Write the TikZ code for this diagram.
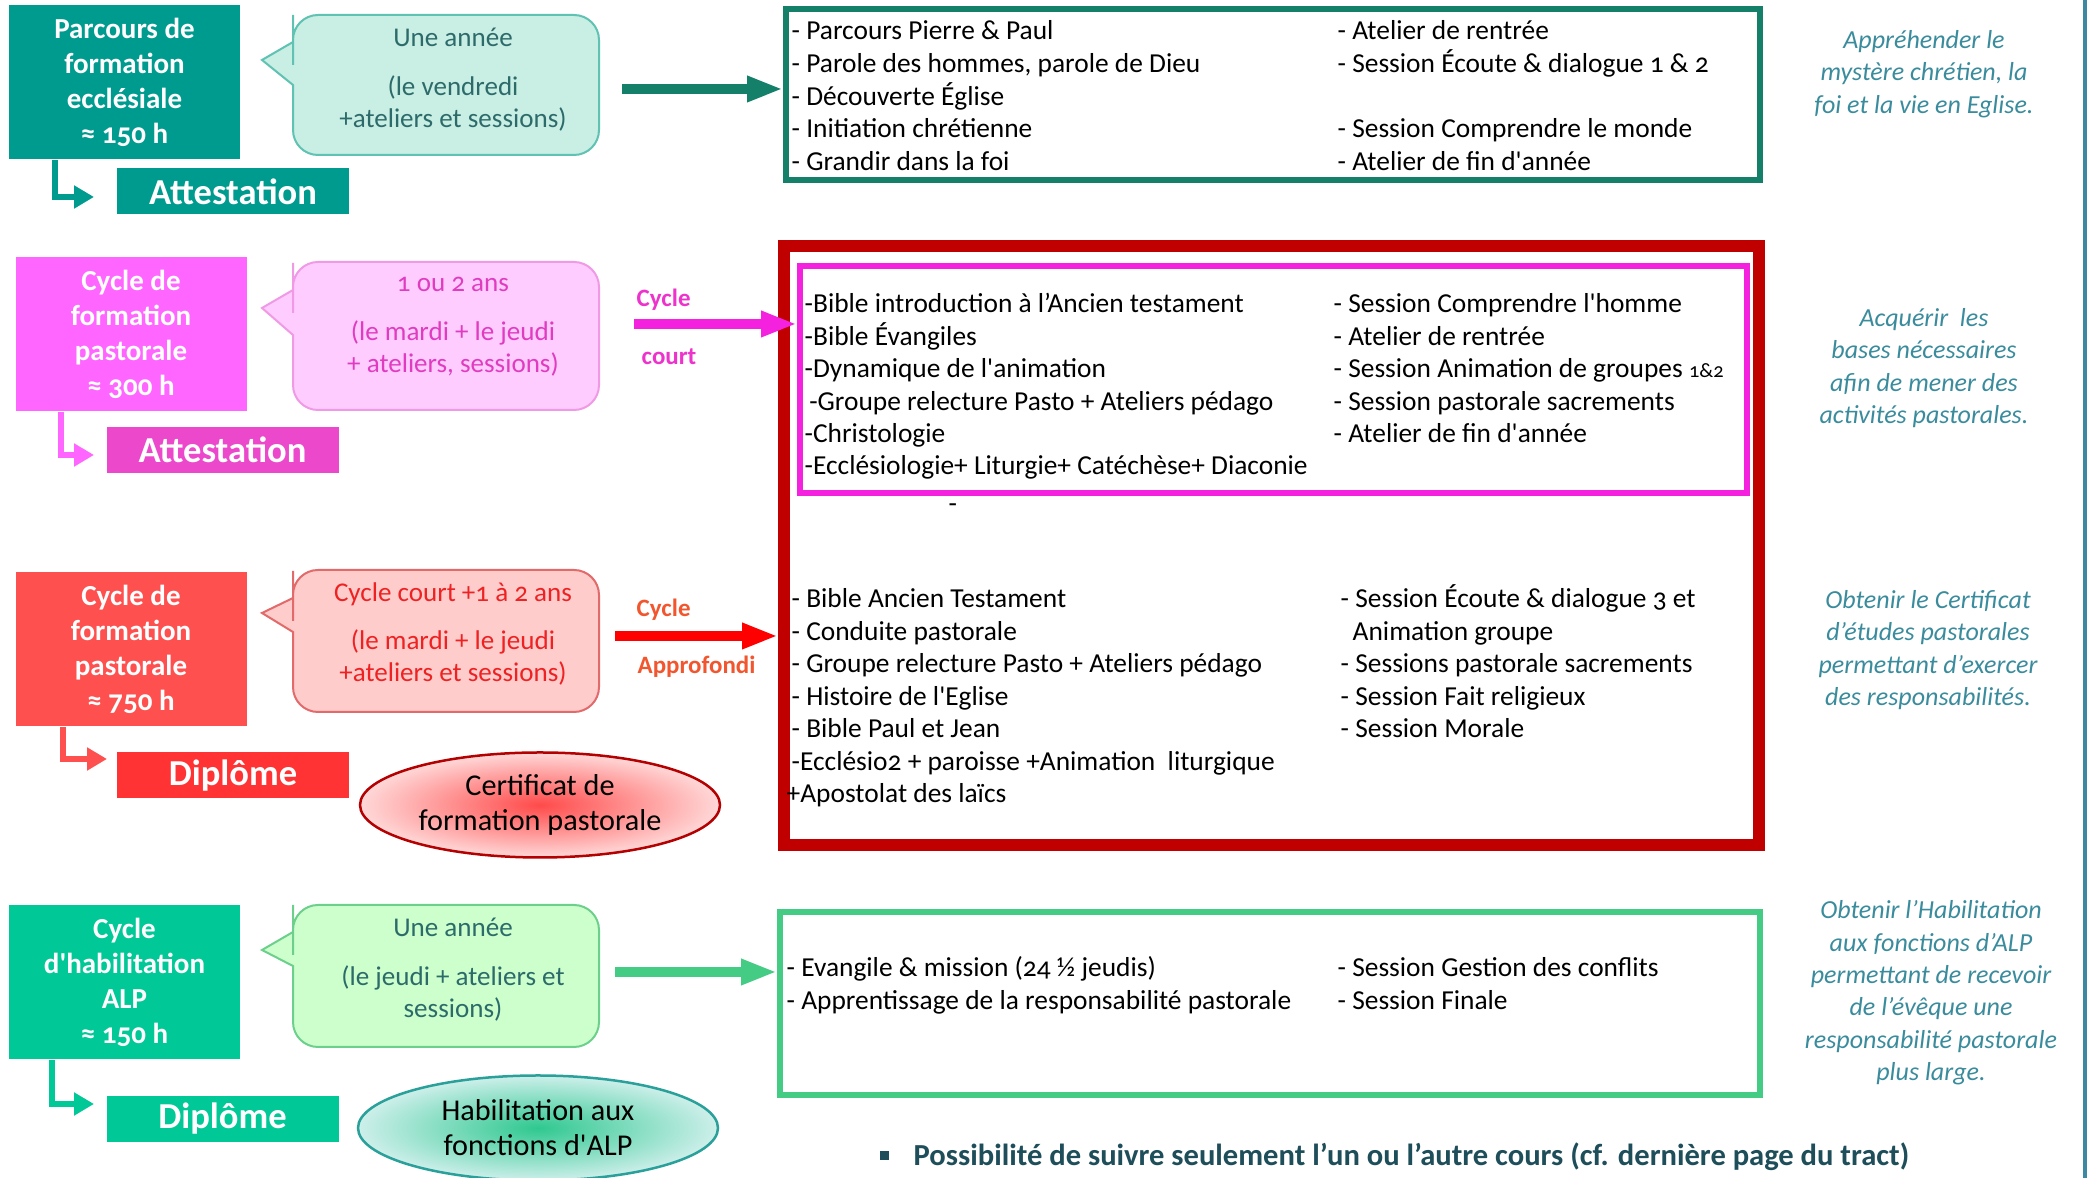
\documentclass[tikz,border=0pt]{standalone}
\usepackage{fontspec}
\setmainfont{Carlito}[Numbers=OldStyle]
\usetikzlibrary{arrows.meta,shapes.geometric}

\definecolor{tealbox}{HTML}{009B8F}
\definecolor{tealdark}{HTML}{14806A}
\definecolor{tealbubble}{HTML}{C9EEE4}
\definecolor{tealline}{HTML}{5FC2B2}
\definecolor{slatetxt}{HTML}{2D6B6B}
\definecolor{pinkbox}{HTML}{FF66FF}
\definecolor{pinkaward}{HTML}{EC48CB}
\definecolor{pinkbubble}{HTML}{FFCCFF}
\definecolor{pinkline}{HTML}{F09AE6}
\definecolor{pinktxt}{HTML}{E03CC0}
\definecolor{pinklbl}{HTML}{EE33CC}
\definecolor{pinkframe}{HTML}{F422DE}
\definecolor{redbox}{HTML}{FF5050}
\definecolor{redaward}{HTML}{FF3333}
\definecolor{redbubble}{HTML}{FFCCCC}
\definecolor{redline}{HTML}{E26A6A}
\definecolor{redtxt}{HTML}{EE2222}
\definecolor{redlbl}{HTML}{F2562E}
\definecolor{redframe}{HTML}{C00000}
\definecolor{redarrow}{HTML}{FF0000}
\definecolor{ovalred}{HTML}{FF4A4A}
\definecolor{ovalpink}{HTML}{FFD8D8}
\definecolor{ovalredline}{HTML}{B40000}
\definecolor{greenbox}{HTML}{00C896}
\definecolor{greenbubble}{HTML}{CCFFCC}
\definecolor{greenline}{HTML}{6CD08C}
\definecolor{greenframe}{HTML}{44CC85}
\definecolor{ovalgreen}{HTML}{2FC890}
\definecolor{ovalmint}{HTML}{CDEFEA}
\definecolor{ovalgreenline}{HTML}{2AA09A}
\definecolor{goalc}{HTML}{3A8C9D}
\definecolor{notec}{HTML}{1E4E5A}
\definecolor{edgec}{HTML}{3B8AA2}

\newcommand{\sq}{\textquotesingle}

\tikzset{
  cyclebox/.style={fill=#1, text=white, align=center, inner sep=0pt,
    minimum width=23.1mm, minimum height=15.4mm,
    font=\bfseries\fontsize{8.25pt}{10pt}\selectfont},
  awardbox/.style={fill=#1, text=white, inner sep=0pt,
    minimum width=23.2mm, minimum height=4.6mm,
    font=\bfseries\fontsize{10.4pt}{12pt}\selectfont},
  bubbletxt/.style={text=#1, align=center, inner sep=0pt,
    font=\fontsize{7.7pt}{9.25pt}\selectfont},
  cyclelbl/.style={text=#1, anchor=west, inner sep=0pt,
    font=\bfseries\fontsize{7.1pt}{8pt}\selectfont},
  itemtxt/.style={anchor=base west, inner sep=0pt,
    font=\fontsize{7.8pt}{9pt}\selectfont},
  goaltxt/.style={text=goalc, align=center, inner sep=0pt,
    font=\itshape\fontsize{7.4pt}{9.2pt}\selectfont},
  notetxt/.style={text=notec, anchor=base west, inner sep=0pt,
    font=\bfseries\fontsize{8.7pt}{10pt}\selectfont},
  listframe/.style={draw=#1, minimum width=97.4mm},
  awardoval/.style={ellipse, draw=#1, line width=0.25mm, shading=radial,
    minimum width=36mm, minimum height=10.5mm, align=center, inner sep=0pt,
    font=\fontsize{8.6pt}{10pt}\selectfont},
  bigarrow/.style={draw=#1, line width=1mm, -{Triangle[length=3.6mm,width=2.4mm]}},
  elbowarrow/.style={draw=#1, line width=0.6mm, -{Triangle[length=2mm,width=2.2mm]}}
}

\begin{document}
\begin{tikzpicture}[x=0.1mm,y=-0.1mm]
\fill[white] (0,0) rectangle (2087,1178);
\useasboundingbox (0,0) rectangle (2087,1178);

% cycles and what they give
\node[cyclebox=tealbox] (box1) at (124.5,82.5) {Parcours de\\formation\\ecclésiale\\≈ 150 h};
\node[cyclebox=pinkbox] (box2) at (131,334.5) {Cycle de\\formation\\pastorale\\≈ 300 h};
\node[cyclebox=redbox] (box3) at (131,649.5) {Cycle de\\formation\\pastorale\\≈ 750 h};
\node[cyclebox=greenbox] (box4) at (124.5,982.5) {Cycle\\d\sq habilitation\\ALP\\≈ 150 h};
\node[awardbox=tealbox] (att1) at (233,191.5) {Attestation};
\node[awardbox=pinkaward] (att2) at (222.5,450) {Attestation};
\node[awardbox=redaward] (dip3) at (233,775.5) {Diplôme};
\node[awardbox=greenbox] (dip4) at (222.5,1119) {Diplôme};

\coordinate (e1) at (94,197);
\coordinate (e2) at (94,455);
\coordinate (e3) at (107,759);
\coordinate (e4) at (94,1104);
\draw[elbowarrow=tealbox] ([xshift=4.7mm]box1.south west) |- (e1);
\draw[elbowarrow=pinkbox] ([xshift=4.6mm]box2.south west) |- (e2);
\draw[elbowarrow=redbox] ([xshift=4.8mm]box3.south west) |- (e3);
\draw[elbowarrow=greenbox] ([xshift=4.4mm]box4.south west) |- (e4);

% speech bubbles
\foreach \ytop/\ybot/\ytip/\ya/\yb/\fc/\dc in {15/155/60/42/85/tealbubble/tealline,
    262/410/308/290/335/pinkbubble/pinkline, 570/712/613/598/632/redbubble/redline,
    905/1047/950/932/966/greenbubble/greenline}
  \draw[fill=\fc, draw=\dc, line width=0.2mm] (293,\ya) -- (262,\ytip) -- (293,\yb)
    -- (293,{\yb+2}) [rounded corners=2.5mm] -- (293,\ybot) -- (599,\ybot) -- (599,\ytop)
    -- (293,\ytop) -- (293,{\ya-2}) [sharp corners] -- cycle;
\node[bubbletxt=slatetxt] (t1) at (453,80) {Une année\\[4.5pt](le vendredi\\+ateliers et sessions)};
\node[bubbletxt=pinktxt] (t2) at (453,327) {1 ou 2 ans\\[4.5pt](le mardi + le jeudi\\+ ateliers, sessions)};
\node[bubbletxt=redtxt] (t3) at (453,634) {Cycle court +1 à 2 ans\\[4.5pt](le mardi + le jeudi\\+ateliers et sessions)};
\node[bubbletxt=slatetxt] (t4) at (453,970) {Une année\\[4.5pt](le jeudi + ateliers et\\sessions)};

\node[cyclelbl=pinklbl] (c2a) at (636,300) {Cycle};
\node[cyclelbl=pinklbl] (c2b) at (641,357) {court};
\node[cyclelbl=redlbl] (c3a) at (636,610) {Cycle};
\node[cyclelbl=redlbl] (c3b) at (637,667) {Approfondi};

% course frames
\node[listframe=tealdark, line width=0.6mm, minimum height=17.1mm] (list1) at (1273,94.5) {};
\node[listframe=redframe, line width=1.2mm, minimum width=97.5mm, minimum height=59.9mm] (list3) at (1271.5,545.5) {};
\node[listframe=pinkframe, line width=0.6mm, minimum width=94.7mm, minimum height=22.7mm] (list2) at (1273.5,379.5) {};
\node[listframe=greenframe, line width=0.6mm, minimum width=98mm, minimum height=18.3mm] (list4) at (1270,1003.5) {};

\coordinate (s1) at (622,89);
\coordinate (s2) at (634,324);
\coordinate (s3) at (615,636);
\coordinate (s4) at (615,972);
\draw[bigarrow=tealdark] (s1) -- (s1 -| list1.west);
\draw[bigarrow=pinkframe] (s2) -- (s2 -| list2.west);
\draw[bigarrow=redarrow] (s3) -- (s3 -| list3.west);
\draw[bigarrow=greenframe] (s4) -- (s4 -| list4.west);

% courses
\foreach \txt [count=\i from 0] in {{- Parcours Pierre \& Paul}, {- Parole des hommes, parole de Dieu},
    {- Découverte Église}, {- Initiation chrétienne}, {- Grandir dans la foi}}
  \node[itemtxt] (pl-\i) at (791,{40+32.6*\i}) {\txt};
\foreach \k/\txt in {0/{- Atelier de rentrée}, 1/{- Session Écoute \& dialogue 1 \& 2},
    3/{- Session Comprendre le monde}, 4/{- Atelier de fin d\sq année}}
  \node[itemtxt] (pr-\k) at (1337,{40+32.6*\k}) {\txt};

\foreach \txt [count=\i from 0] in {{-Bible introduction à l’Ancien testament}, {-Bible Évangiles},
    {-Dynamique de l\sq animation}, {\,-Groupe relecture Pasto + Ateliers pédago}, {-Christologie},
    {-Ecclésiologie+ Liturgie+ Catéchèse+ Diaconie}}
  \node[itemtxt] (cl-\i) at (804,{313+32.4*\i}) {\txt};
\foreach \txt [count=\i from 0] in {{- Session Comprendre l\sq homme}, {- Atelier de rentrée},
    {- Session Animation de groupes {\fontsize{5.8pt}{7pt}\selectfont 1\&2}},
    {- Session pastorale sacrements}, {- Atelier de fin d\sq année}}
  \node[itemtxt] (cr-\i) at (1333,{313+32.4*\i}) {\txt};
\node[itemtxt] (dash) at (948,513) {-};

\foreach \txt [count=\i from 0] in {{- Bible Ancien Testament}, {- Conduite pastorale},
    {- Groupe relecture Pasto + Ateliers pédago}, {-~Histoire de l\sq Eglise}, {- Bible Paul et Jean},
    {-Ecclésio2 + paroisse +Animation~ liturgique}, {\hspace*{-0.5mm}+Apostolat des laïcs}}
  \node[itemtxt] (al-\i) at (791,{608+32.5*\i}) {\txt};
\foreach \txt [count=\i from 0] in {{- Session Écoute \& dialogue 3 et}, {\hspace*{1.2mm}Animation groupe},
    {- Sessions pastorale sacrements}, {- Session Fait religieux}, {- Session Morale}}
  \node[itemtxt] (ar-\i) at (1340,{608+32.5*\i}) {\txt};

\node[itemtxt] (hl-0) at (786,977) {- Evangile \& mission (24 ½ jeudis)};
\node[itemtxt] (hl-1) at (786,1010) {- Apprentissage de la responsabilité pastorale};
\node[itemtxt] (hr-0) at (1337,977) {- Session Gestion des conflits};
\node[itemtxt] (hr-1) at (1337,1010) {- Session Finale};

% outcomes
\node[awardoval=ovalredline, inner color=ovalred, outer color=ovalpink] (cert) at (540,805) {Certificat de\\formation pastorale};
\node[awardoval=ovalgreenline, inner color=ovalgreen, outer color=ovalmint] (alp) at (538,1128) {Habilitation aux\\fonctions d\sq ALP};

% goals
\node[goaltxt] (g1) at (1924,74) {Appréhender le\\mystère chrétien, la\\foi et la vie en Eglise.};
\node[goaltxt] (g2) at (1924,368) {Acquérir~ les\\bases nécessaires\\afin de mener des\\activités pastorales.};
\node[goaltxt] (g3) at (1928,650) {Obtenir le Certificat\\d’études pastorales\\permettant d’exercer\\des responsabilités.};
\node[goaltxt] (g4) at (1931,993) {Obtenir l’Habilitation\\aux fonctions d’ALP\\permettant de recevoir\\de l’évêque une\\responsabilité pastorale\\plus large.};

% note
\fill[notec] (880,1151) rectangle (889,1160);
\node[notetxt] (note) at (913,1166) {Possibilité de suivre seulement l’un ou l’autre cours (cf. dernière page du tract)};

\fill[edgec] (2083,0) rectangle (2087,1178);
\end{tikzpicture}
\end{document}
